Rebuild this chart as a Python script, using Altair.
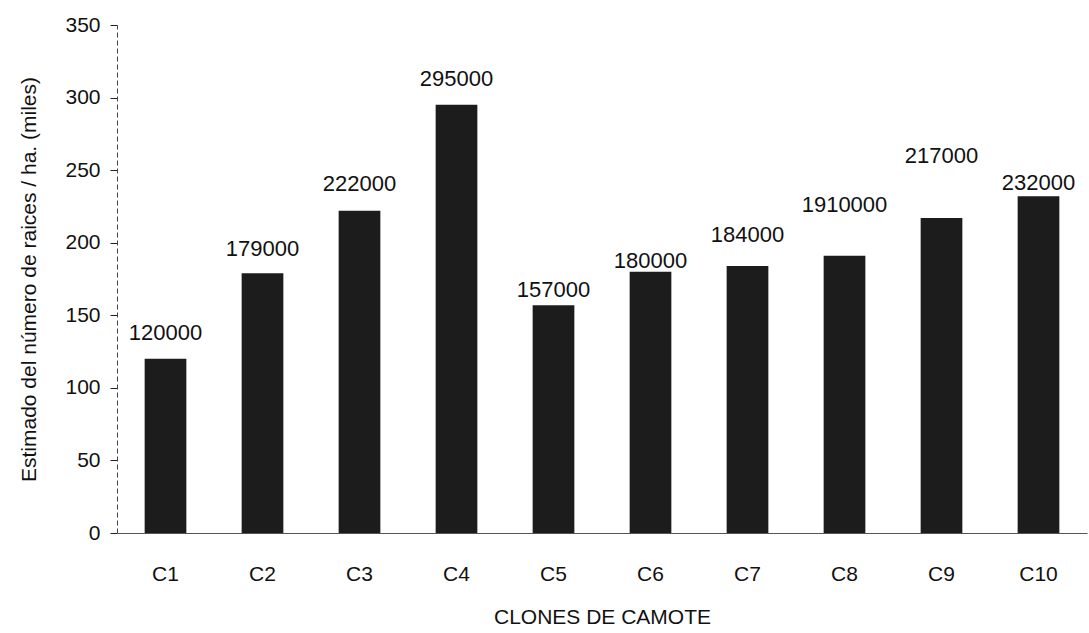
import altair as alt
import pandas as pd

# Data
clones = ["C1", "C2", "C3", "C4", "C5", "C6", "C7", "C8", "C9", "C10"]
valores_miles = [120, 179, 222, 295, 157, 180, 184, 191, 217, 232]
etiquetas = ["120000", "179000", "222000", "295000", "157000",
             "180000", "184000", "1910000", "217000", "232000"]
# height (in axis units) at which each printed label sits in the original
nivel_etiqueta = [132.9, 191.0, 235.9, 308.0, 162.4, 182.3, 200.4, 221.1, 254.8, 236.2]

df = pd.DataFrame({
    "clon": clones,
    "valor": valores_miles,
    "etiqueta": etiquetas,
    "nivel": nivel_etiqueta,
})

FONT = "Liberation Sans"

x_enc = alt.X(
    "clon:N",
    sort=clones,
    scale=alt.Scale(paddingInner=0.57, paddingOuter=0.285),
    axis=alt.Axis(
        title="CLONES DE CAMOTE",
        labelAngle=0,
        ticks=False,
        labelPadding=30,
        labelFontSize=21,
        labelFont=FONT,
        labelColor="#111111",
        titleFontSize=21,
        titleFont=FONT,
        titleFontWeight="normal",
        titleColor="#111111",
        titlePadding=22,
        domainColor="#555555",
        domainWidth=1,
    ),
)

bars = alt.Chart(df).mark_bar(color="#1c1c1c").encode(
    x=x_enc,
    y=alt.Y(
        "valor:Q",
        scale=alt.Scale(domain=[0, 350], nice=False),
        axis=alt.Axis(
            title="Estimado del número de raices  / ha. (miles)",
            values=[0, 50, 100, 150, 200, 250, 300, 350],
            grid=False,
            tickSize=7,
            tickColor="#222222",
            labelPadding=10,
            labelFontSize=21,
            labelFont=FONT,
            labelColor="#111111",
            titleFontSize=21,
            titleFont=FONT,
            titleFontWeight="normal",
            titleColor="#111111",
            titlePadding=25,
            domainColor="#444444",
            domainDash=[5, 3],
        ),
    ),
)

labels = alt.Chart(df).mark_text(
    fontSize=22, font=FONT, color="#111111", align="center", baseline="alphabetic"
).encode(
    x=alt.X("clon:N", sort=clones),
    y=alt.Y("nivel:Q"),
    text="etiqueta:N",
)

chart = (
    alt.layer(bars, labels)
    .properties(
        width=970,
        height=508,
        autosize=alt.AutoSizeParams(type="none"),
        padding={"left": 117, "top": 25, "right": 2, "bottom": 100},
        background="white",
    )
    .configure_view(stroke=None)
)

chart.save("out.html", embed_options={"renderer": "svg", "actions": False})
